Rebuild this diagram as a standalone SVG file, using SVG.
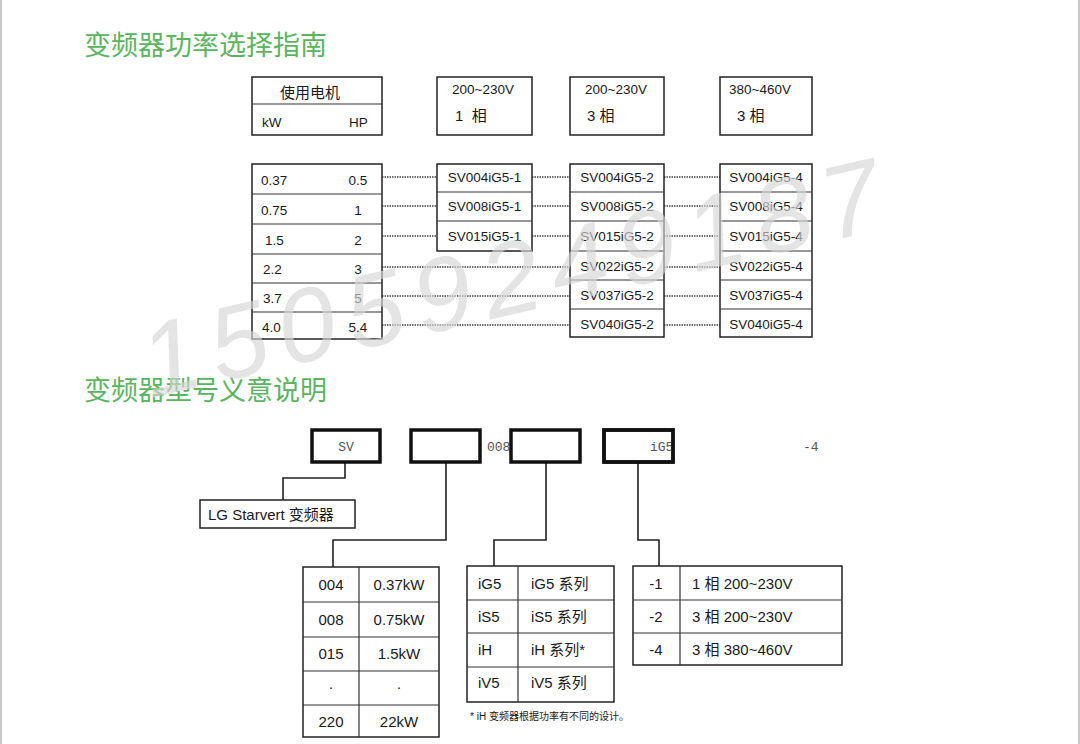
<svg xmlns="http://www.w3.org/2000/svg" width="1080" height="744" viewBox="0 0 1080 744">
<style>
.t{font-family:"Liberation Sans","Noto Sans CJK SC",sans-serif;fill:#1a1a1a}
.title{font-family:"Noto Sans CJK SC",sans-serif;font-size:27px;fill:#5ab55e}
.s13{font-size:13.5px}
.s15{font-size:15px}
.mono{font-family:"Liberation Mono",monospace;font-size:13px;fill:#555}
.box{fill:#fff;stroke:#222;stroke-width:1.5}
.tbox{fill:#fff;stroke:#111;stroke-width:3.5}
.ln{stroke:#333;stroke-width:1.2;fill:none}
.dot{stroke:#444;stroke-width:1.3;stroke-dasharray:1.5 1;fill:none}
.con{stroke:#222;stroke-width:1.6;fill:none}
</style>
<rect x="0" y="0" width="1080" height="744" fill="#fff"/>
<rect x="0" y="0" width="2" height="744" fill="#c8c8c8"/>
<rect x="1078" y="0" width="2" height="744" fill="#c8c8c8"/>

<text class="title" x="84" y="55">变频器功率选择指南</text>
<text class="title" x="84" y="400">变频器型号义意说明</text>

<g id="connectors">
<path class="dot" d="M382 177H437M532 177H570M664 177H720"/>
<path class="dot" d="M382 206H437M532 206H570M664 206H720"/>
<path class="dot" d="M382 236H437M532 236H570M664 236H720"/>
<path class="dot" d="M382 267H570M664 267H720"/>
<path class="dot" d="M382 296H570M664 296H720"/>
<path class="dot" d="M382 325H570M664 325H720"/>
<path class="con" d="M345 462V478H283V500"/>
<path class="con" d="M446 462V540H333V567"/>
<path class="con" d="M546 462V540H494V566"/>
<path class="con" d="M638 462V540H659V566"/>
</g>

<g id="motor-header">
<rect class="box" x="252" y="77" width="130" height="58"/>
<line class="ln" x1="252" y1="104" x2="382" y2="104"/>
<text class="t s15" x="310" y="98" text-anchor="middle">使用电机</text>
<text class="t s13" x="262" y="127">kW</text>
<text class="t s13" x="349" y="127">HP</text>
</g>
<g id="hdr-1ph">
<rect class="box" x="437" y="77" width="95" height="58"/>
<text class="t s13" x="452" y="94">200~230V</text>
<text class="t s15" x="455" y="121">1 &#160;相</text>
</g>
<g id="hdr-3ph-200">
<rect class="box" x="570" y="77" width="94" height="58"/>
<text class="t s13" x="585" y="94">200~230V</text>
<text class="t s15" x="587" y="121">3 相</text>
</g>
<g id="hdr-3ph-400">
<rect class="box" x="720" y="77" width="92" height="58"/>
<text class="t s13" x="729" y="94">380~460V</text>
<text class="t s15" x="737" y="121">3 相</text>
</g>

<g id="motor-table">
<rect class="box" x="252" y="164" width="130" height="175"/>
<path class="ln" d="M252 194H382M252 224H382M252 254H382M252 283H382M252 312H382"/>
<g class="t s13">
<text x="261" y="185">0.37</text><text x="358" y="185" text-anchor="middle">0.5</text>
<text x="261" y="215">0.75</text><text x="358" y="215" text-anchor="middle">1</text>
<text x="265" y="245">1.5</text><text x="358" y="245" text-anchor="middle">2</text>
<text x="263" y="274">2.2</text><text x="358" y="274" text-anchor="middle">3</text>
<text x="263" y="303">3.7</text><text x="358" y="303" text-anchor="middle">5</text>
<text x="262" y="332">4.0</text><text x="358" y="332" text-anchor="middle">5.4</text>
</g>
</g>

<g id="col-1ph">
<rect class="box" x="437" y="164" width="95" height="87"/>
<path class="ln" d="M437 192H532M437 221H532"/>
<g class="t s13" text-anchor="middle">
<text x="484.5" y="182">SV004iG5-1</text>
<text x="484.5" y="211">SV008iG5-1</text>
<text x="484.5" y="241">SV015iG5-1</text>
</g>
</g>
<g id="col-3ph-200">
<rect class="box" x="570" y="164" width="94" height="173"/>
<path class="ln" d="M570 192H664M570 221H664M570 251H664M570 280H664M570 309H664"/>
<g class="t s13" text-anchor="middle">
<text x="617" y="182">SV004iG5-2</text>
<text x="617" y="211">SV008iG5-2</text>
<text x="617" y="241">SV015iG5-2</text>
<text x="617" y="271">SV022iG5-2</text>
<text x="617" y="300">SV037iG5-2</text>
<text x="617" y="329">SV040iG5-2</text>
</g>
</g>
<g id="col-3ph-400">
<rect class="box" x="720" y="164" width="92" height="173"/>
<path class="ln" d="M720 192H812M720 221H812M720 251H812M720 280H812M720 309H812"/>
<g class="t s13" text-anchor="middle">
<text x="766" y="182">SV004iG5-4</text>
<text x="766" y="211">SV008iG5-4</text>
<text x="766" y="241">SV015iG5-4</text>
<text x="766" y="271">SV022iG5-4</text>
<text x="766" y="300">SV037iG5-4</text>
<text x="766" y="329">SV040iG5-4</text>
</g>
</g>

<g id="code-sv">
<rect class="tbox" x="312" y="430" width="68" height="32"/>
<text class="mono" x="346" y="451" text-anchor="middle">SV</text>
</g>
<g id="code-power">
<rect class="tbox" x="411" y="430" width="69" height="32"/>
<text class="mono" x="487" y="451">008</text>
</g>
<g id="code-series">
<rect class="tbox" x="511" y="430" width="69" height="32"/>
</g>
<g id="code-phase">
<rect class="tbox" x="604" y="430" width="69" height="32"/>
<text class="mono" x="650" y="451">iG5</text>
<rect fill="#fff" x="675" y="432" width="8" height="28"/>
<rect x="604" y="430" width="69" height="32" style="fill:none;stroke:#111;stroke-width:3.5"/>
<text class="mono" x="803" y="451">-4</text>
</g>

<g id="brand">
<rect class="box" x="200" y="500" width="155" height="28"/>
<text class="t s15" x="208" y="520">LG Starvert 变频器</text>
</g>

<g id="power-table">
<rect class="box" x="303" y="567" width="136" height="170"/>
<path class="ln" d="M359 567V737M303 602H439M303 637H439M303 671H439M303 705H439"/>
<g class="t s15" text-anchor="middle">
<text x="331" y="590">004</text><text x="399" y="590">0.37kW</text>
<text x="331" y="625">008</text><text x="399" y="625">0.75kW</text>
<text x="331" y="659">015</text><text x="399" y="659">1.5kW</text>
<text x="331" y="692">·</text><text x="399" y="692">·</text>
<text x="331" y="727">220</text><text x="399" y="727">22kW</text>
</g>
</g>

<g id="series-table">
<rect class="box" x="467" y="566" width="147" height="136"/>
<path class="ln" d="M518 566V702M467 600H614M467 633H614M467 667H614"/>
<g class="t s15">
<text x="478" y="589">iG5</text><text x="531" y="589">iG5 系列</text>
<text x="478" y="622">iS5</text><text x="531" y="622">iS5 系列</text>
<text x="478" y="655">iH</text><text x="531" y="655">iH 系列*</text>
<text x="478" y="688">iV5</text><text x="531" y="688">iV5 系列</text>
</g>
<text class="t" x="470" y="720" font-size="10" fill="#444">* iH 变频器根据功率有不同的设计。</text>
</g>

<g id="phase-table">
<rect class="box" x="633" y="566" width="209" height="99"/>
<path class="ln" d="M680 566V665M633 600H842M633 633H842"/>
<g class="t s15">
<text x="656" y="589" text-anchor="middle">-1</text><text x="692" y="589">1 相 200~230V</text>
<text x="656" y="622" text-anchor="middle">-2</text><text x="692" y="622">3 相 200~230V</text>
<text x="656" y="655" text-anchor="middle">-4</text><text x="692" y="655">3 相 380~460V</text>
</g>
</g>

<text x="0" y="0" transform="translate(150 398) rotate(-13)" font-family="Liberation Sans,sans-serif" font-style="italic" font-size="104" fill="#d6d6d6" fill-opacity="0.65" letter-spacing="12">15059249187</text>
</svg>
